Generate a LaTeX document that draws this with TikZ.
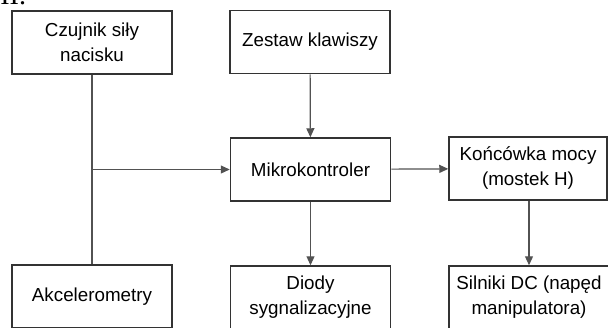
\documentclass[tikz,border=0pt]{standalone}
\usepackage{fontspec}
\setmainfont{Liberation Sans}
\newfontfamily\numfont{Liberation Serif}
\usetikzlibrary{arrows.meta}

\begin{document}
\begin{tikzpicture}[x=0.5pt,y=-0.5pt,
        blok/.style={draw=black!80,line width=0.75pt,minimum width=80pt,minimum height=31.5pt,
            align=center,inner sep=0pt,font=\fontsize{9.4}{12.5}\selectfont},
        pol/.style={draw=black!68,line width=0.6pt},
        strz/.style={pol,-{Triangle[length=4.5pt,width=4pt]}}]
        \useasboundingbox (0,0) rectangle (608,327);
        \node[anchor=base west,inner sep=0pt,font=\numfont\fontsize{14}{14}\selectfont] (nr) at (0,4) {II.};

        \node[blok] (czuj) at (92,42.5) {Czujnik siły\\nacisku};
        \node[blok] (zest) at (310,42) {Zestaw klawiszy};
        \node[blok] (mikro) at (310.5,169.5) {Mikrokontroler};
        \node[blok,minimum width=79pt] (konc) at (528,168.5) {Końcówka mocy\\(mostek H)};
        \node[blok] (akc) at (92,296.5) {Akcelerometry};
        \node[blok] (diody) at (310.5,297.5) {Diody\\sygnalizacyjne};
        \node[blok] (siln) at (529,297.5) {Silniki DC (napęd\\manipulatora)};
        \coordinate (j) at (czuj.south |- mikro.west);

        \draw[pol] (czuj) -- (akc);
        \draw[strz] (j) -- (mikro);
        \draw[strz] (zest) -- (mikro);
        \draw[strz] (mikro) -- (konc);
        \draw[strz] (mikro) -- (diody);
        \draw[strz] (konc.south -| siln.north) -- (siln);

    \end{tikzpicture}
\end{document}
